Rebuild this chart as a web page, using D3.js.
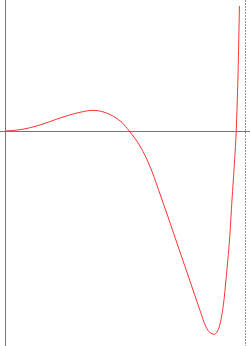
<!DOCTYPE html>
<html>
<head>
<meta charset="utf-8">
<script src="https://cdn.jsdelivr.net/npm/d3@7"></script>
<style>
  html, body { margin: 0; padding: 0; background: #fff; }
  svg { display: block; }
</style>
</head>
<body>
<svg width="250" height="346"></svg>
<script>
// points (plot units)
var xs = [0, 0.625, 1.458, 2.292, 3.125, 3.667, 4.167, 4.583, 4.875, 5.179, 5.417, 5.625, 5.875, 6.125, 6.458, 6.875, 7.292, 7.708, 8.125, 8.375, 8.542, 8.708, 8.833, 8.938, 9.021, 9.104, 9.188, 9.262, 9.375, 9.458, 9.55, 9.633, 9.679, 9.717, 9.746, 9.769];
var ys = [0, 0.13, 0.6, 1.3, 1.87, 2.07, 1.85, 1.37, 0.85, 0, -0.75, -1.5, -2.65, -4.05, -6.3, -9.17, -12.1, -15.0, -17.95, -19.6, -20.15, -20.32, -20.1, -19.5, -18.6, -17.3, -15.4, -13.5, -10.2, -6.9, -3.57, 0, 3.1, 6.43, 9.77, 12.5];
var xEnd = 10;

var svg = d3.select("svg"),
    width = +svg.attr("width"),
    height = +svg.attr("height");

var x = d3.scaleLinear()
    .domain([0, xEnd])
    .range([5, 245]);

var y = d3.scaleLinear()
    .domain([-21.5, 13.1])
    .range([height, 0]);

var data = xs.map(function(d, i) { return [d, ys[i]]; });

// axes through the origin
svg.append("line")
    .attr("x1", 0).attr("x2", width)
    .attr("y1", Math.round(y(0)) + 0.5).attr("y2", Math.round(y(0)) + 0.5)
    .attr("stroke", "#777").attr("stroke-width", 1);

svg.append("line")
    .attr("x1", Math.round(x(0)) + 0.5).attr("x2", Math.round(x(0)) + 0.5)
    .attr("y1", 0).attr("y2", height)
    .attr("stroke", "#777").attr("stroke-width", 1);

// end of domain marker
svg.append("line")
    .attr("x1", Math.round(x(xEnd)) + 0.5).attr("x2", Math.round(x(xEnd)) + 0.5)
    .attr("y1", 0).attr("y2", height)
    .attr("stroke", "#999").attr("stroke-width", 1)
    .attr("stroke-dasharray", "2,1");

var line = d3.line()
    .x(function(d) { return x(d[0]); })
    .y(function(d) { return y(d[1]); })
    .curve(d3.curveMonotoneX);

svg.append("path")
    .datum(data)
    .attr("fill", "none")
    .attr("stroke", "#f33")
    .attr("stroke-width", 1)
    .attr("d", line);
</script>
</body>
</html>
